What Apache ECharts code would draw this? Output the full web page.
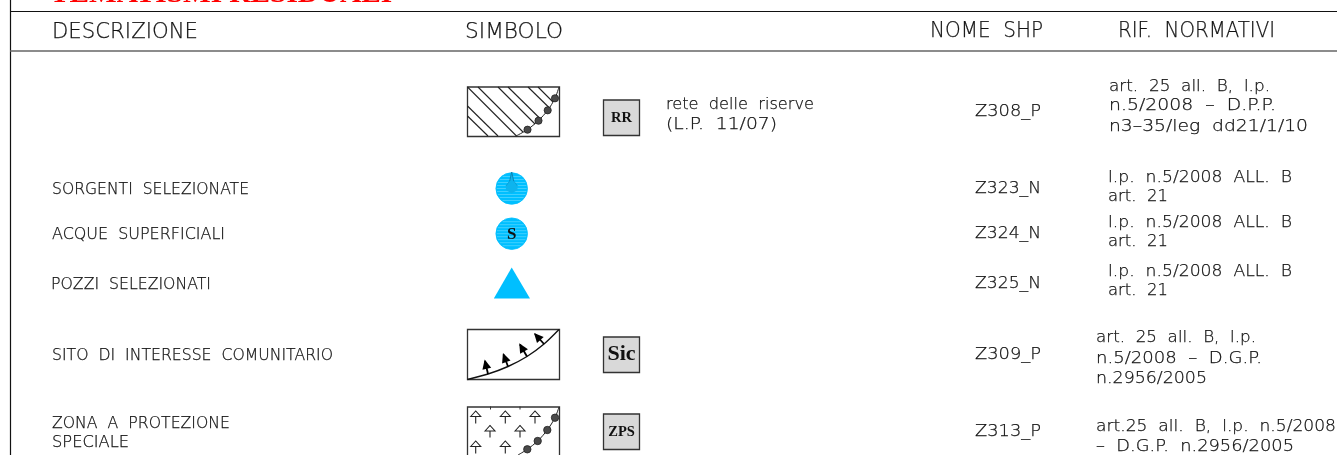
<!DOCTYPE html>
<html><head><meta charset="utf-8">
<style>html,body{margin:0;padding:0;background:#fff}#c{width:1337px;height:455px}</style>
<script src="https://cdn.jsdelivr.net/npm/echarts@6/dist/echarts.min.js"></script>
</head><body><div id="c"></div>
<script>
const titleText = 'TEMATISMI RESIDUALI';
const headers = ['DESCRIZIONE', 'SIMBOLO', 'NOME  SHP', 'RIF.  NORMATIVI'];
const descriptions = ['SORGENTI  SELEZIONATE', 'ACQUE  SUPERFICIALI', 'POZZI  SELEZIONATI', 'SITO  DI  INTERESSE  COMUNITARIO', 'ZONA  A  PROTEZIONE', 'SPECIALE'];
const shpNames = ['Z308_P', 'Z323_N', 'Z324_N', 'Z325_N', 'Z309_P', 'Z313_P'];
const refLines = [
  'art.  25  all.  B,  l.p.', 'n.5/2008  –  D.P.P.', 'n3–35/leg  dd21/1/10',
  'l.p.  n.5/2008  ALL.  B', 'art.  21',
  'l.p.  n.5/2008  ALL.  B', 'art.  21',
  'l.p.  n.5/2008  ALL.  B', 'art.  21',
  'art.  25  all.  B,  l.p.', 'n.5/2008  –  D.G.P.', 'n.2956/2005',
  'art.25  all.  B,  l.p.  n.5/2008', '–  D.G.P.  n.2956/2005'
];
const noteLines = ['rete  delle  riserve', '(L.P.  11/07)'];
const badges = ['RR', 'Sic', 'ZPS'];

const font = s => '200 ' + s + 'px "DejaVu Sans"';
const INK = '#111';
const BLUE = '#00bfff';
// layout: x, y, fitted width
const placeHeaders = [[52, 32, 146], [465, 32, 98], [930, 31, 113], [1118, 31, 157]];
const placeDesc = [[52, 190, 197], [52, 235, 173], [51, 285, 160], [52, 356, 281], [52, 424, 178], [52, 443, 77]];
const placeShp = [112, 189, 234, 284, 355, 432];
const placeRefs = [[1109, 87, 161], [1109, 106, 167], [1109, 127, 199], [1108, 178, 184], [1108, 197, 60], [1108, 223, 184], [1108, 242, 60], [1108, 272, 184], [1108, 291, 60], [1096, 338, 160], [1096, 359, 166], [1096, 379, 111], [1096, 427, 240], [1096, 447, 198]];
const placeNote = [[666, 105, 148], [666, 125, 111]];

const textRows = [];
headers.forEach((t, i) => textRows.push([placeHeaders[i][0], placeHeaders[i][1], t, 22, placeHeaders[i][2]]));
descriptions.forEach((t, i) => textRows.push([placeDesc[i][0], placeDesc[i][1], t, 15.5, placeDesc[i][2]]));
shpNames.forEach((t, i) => textRows.push([975, placeShp[i], t, 16.5, 66]));
refLines.forEach((t, i) => textRows.push([placeRefs[i][0], placeRefs[i][1], t, 16.5, placeRefs[i][2]]));
noteLines.forEach((t, i) => textRows.push([placeNote[i][0], placeNote[i][1], t, 16.5, placeNote[i][2]]));

const measurer = document.createElement('canvas').getContext('2d');
function fitScale(text, size, target) {
  measurer.font = font(size);
  return target / measurer.measureText(text).width;
}

function drawSymbols(params, api) {
  const P = (x, y) => api.coord([x, y]);
  const kids = [];
  const seg = (x1, y1, x2, y2, w = 1, c = '#222') => {
    const p = P(x1, y1), q = P(x2, y2);
    kids.push({ type: 'line', shape: { x1: p[0], y1: p[1], x2: q[0], y2: q[1] }, style: { stroke: c, lineWidth: w } });
  };
  const poly = (pts, fill) => kids.push({ type: 'polygon', shape: { points: pts.map(a => P(a[0], a[1])) }, style: { fill } });
  const open = (pts, w = 1.2, c = '#111') => kids.push({ type: 'polyline', shape: { points: pts.map(a => P(a[0], a[1])), smooth: 0.3 }, style: { stroke: c, lineWidth: w, fill: 'none' } });
  const dot = (x, y, r, fill, stroke) => { const p = P(x, y); kids.push({ type: 'circle', shape: { cx: p[0], cy: p[1], r }, style: { fill, stroke: stroke || '#222', lineWidth: 0.8 } }); };
  const box = (x, y, w, h, fill, sw = 1.3, c = '#333') => { const p = P(x, y); kids.push({ type: 'rect', shape: { x: p[0], y: p[1], width: w, height: h }, style: { fill, stroke: c, lineWidth: sw } }); };
  const label = (x, y, t, size) => { const p = P(x, y); kids.push({ type: 'text', style: { x: p[0], y: p[1], text: t, font: 'bold ' + size + 'px "Liberation Serif"', fill: '#111', textAlign: 'center', textVerticalAlign: 'middle' } }); };

  // frame
  seg(10.5, 0, 10.5, 455, 1.2, '#111');
  seg(10, 11.5, 1337, 11.5, 1.2, '#111');
  seg(10, 51, 1337, 51, 1.3, '#666');

  // RR swatch
  box(467.5, 87, 92, 49.5, '#fff');
  [[467.5, 87, 516.5, 136], [478, 87, 523, 132], [498, 87, 535, 124], [508, 87, 540.5, 119], [528, 87, 549.5, 108], [538, 87, 553, 102], [467.5, 106, 498, 136], [467.5, 116, 488, 136]]
    .forEach(l => seg(l[0], l[1], l[2], l[3], 1.1, '#222'));
  open([[516, 136], [527.3, 129.7], [538.3, 120.7], [547.7, 110.3], [555, 98.3], [559, 87]], 1, '#222');
  [[527.5, 129.7], [538.5, 120.7], [547.7, 110.3], [555, 98.3]].forEach(c => dot(c[0], c[1], 3.6, '#4a4a4a'));

  // water symbols
  [188.5, 233.7].forEach(cy => {
    dot(511.7, cy, 15.8, BLUE, BLUE);
    for (let y = cy - 12; y <= cy + 12; y += 3) {
      const dx = Math.sqrt(15 * 15 - (y - cy) * (y - cy));
      seg(511.7 - dx, y, 511.7 + dx, y, 1, '#3fd0ff');
    }
  });
  poly([[511.7, 172], [513.5, 181], [517.5, 186], [517.5, 190], [511.7, 193.5], [505.9, 190], [505.9, 186], [509.9, 181]], '#0db4ee');
  seg(511.7, 172, 509.7, 181, 0.9, '#0a80b0');
  seg(511.7, 172, 513.7, 181, 0.9, '#0a80b0');
  seg(509.7, 181, 505.9, 186, 0.8, '#0a9ad0');
  seg(513.7, 181, 517.5, 186, 0.8, '#0a9ad0');
  label(511.7, 234.5, 'S', 17);
  poly([[511.7, 267.5], [530, 298.5], [493.8, 298.5]], BLUE);

  // Sic swatch
  box(467.5, 329.5, 92, 50, '#fff');
  open([[467.5, 379.5], [488, 374], [508, 366.5], [527, 356.5], [544, 344], [559, 329.5]], 1.4, '#111');
  [[488, 374, 485, 361], [508, 366.5, 503.5, 354.5], [527, 356.5, 520, 344.5], [544, 344, 535, 334]].forEach(a => {
    seg(a[0], a[1], a[2], a[3], 1.8, '#000');
    const ux = a[2] - a[0], uy = a[3] - a[1], n = Math.hypot(ux, uy), vx = ux / n, vy = uy / n;
    const tx = a[2] + vx * 1.5, ty = a[3] + vy * 1.5;
    poly([[tx, ty], [tx - vx * 9.5 + vy * 4.5, ty - vy * 9.5 - vx * 4.5], [tx - vx * 9.5 - vy * 4.5, ty - vy * 9.5 + vx * 4.5]], '#000');
  });

  // ZPS swatch
  box(467.5, 407, 92, 70, '#fff');
  [[475.7, 411, 423.5], [505.3, 411, 423.5], [535, 411, 423.5], [490, 425.5, 437.5], [520, 425.5, 437.5], [475.7, 441, 453.5], [505.3, 441, 453.5]].forEach(a => {
    seg(a[0], a[1], a[0], a[2], 1.1, '#222');
    kids.push({ type: 'polygon', shape: { points: [P(a[0] - 5, a[1] + 5.5), P(a[0], a[1]), P(a[0] + 5, a[1] + 5.5)] }, style: { fill: '#fff', stroke: '#222', lineWidth: 1.1 } });
  });
  [[490.5, 407], [520, 407]].forEach(a => seg(a[0], a[1] - 0.5, a[0], a[1] + 2.5, 1, '#333'));
  open([[518, 455], [527.3, 449.3], [537.7, 441], [547.3, 430], [555, 417.7], [559, 407]], 1, '#222');
  [[527.3, 449.3], [537.7, 441], [547.3, 430], [555, 417.7]].forEach(c => dot(c[0], c[1], 3.7, '#4a4a4a'));

  // badges
  [[603.5, 100, 118, 14.5, 0], [603.5, 337, 354.5, 22, 1], [603.5, 414, 432, 14.5, 2]].forEach(b => {
    box(b[0], b[1], 36, 35.5, '#d9d9d9', 1.3, '#333');
    label(b[0] + 18, b[2], badges[b[4]], b[3]);
  });
  return { type: 'group', children: kids };
}

const chart = echarts.init(document.getElementById('c'), null, { renderer: 'canvas' });
chart.setOption({
  animation: false,
  backgroundColor: '#fff',
  grid: { left: 0, right: 0, top: 0, bottom: 0 },
  xAxis: { type: 'value', min: 0, max: 1337, show: false },
  yAxis: { type: 'value', min: 0, max: 455, inverse: true, show: false },
  series: [
    { type: 'custom', silent: true, clip: true, coordinateSystem: 'cartesian2d', data: [[0, 0]], renderItem: drawSymbols },
    {
      type: 'custom', silent: true, clip: true, coordinateSystem: 'cartesian2d', data: textRows,
      encode: { x: 0, y: 1 },
      renderItem: (params, api) => {
        const r = textRows[params.dataIndex], p = api.coord([r[0], r[1]]);
        return {
          type: 'text', x: p[0], y: p[1], scaleX: fitScale(r[2], r[3], r[4]), scaleY: 1,
          style: { x: 0, y: 0, text: r[2], font: font(r[3]), fill: INK, stroke: INK, lineWidth: 0.25, textAlign: 'left', textVerticalAlign: 'middle' }
        };
      }
    },
    {
      type: 'custom', silent: true, clip: true, coordinateSystem: 'cartesian2d', data: [[50, 5]],
      renderItem: (params, api) => {
        const p = api.coord([50, -5]);
        return {
          type: 'text', x: p[0], y: p[1], scaleX: fitScale(titleText, 28, 340) * 0.95, scaleY: 1,
          style: { x: 0, y: 0, text: titleText, font: 'bold 28px "Liberation Serif"', fill: '#ff0000', textAlign: 'left', textVerticalAlign: 'middle' }
        };
      }
    }
  ]
});
</script></body></html>
